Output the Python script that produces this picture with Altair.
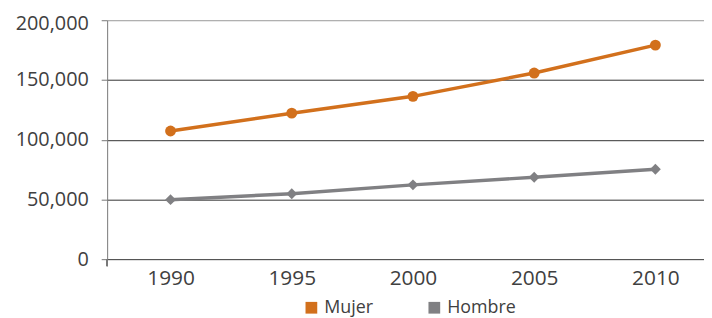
import altair as alt
import pandas as pd

years = ["1990", "1995", "2000", "2005", "2010"]
mujer = [107300, 122200, 136300, 155800, 179200]
hombre = [49800, 54800, 62200, 68600, 75300]
series = ["Mujer", "Hombre"]
colors = ["#D2701C", "#808083"]
shapes = ["circle", "diamond"]
y_ticks = [0, 50000, 100000, 150000, 200000]

rows = []
for s, vals in zip(series, [mujer, hombre]):
    for yr, v in zip(years, vals):
        rows.append({"Año": yr, "Valor": v, "Serie": s})
df = pd.DataFrame(rows)

FONT = "Open Sans"

x = alt.X("Año:O", scale=alt.Scale(type="point", padding=0.462, align=0.566),
          axis=alt.Axis(title=None, labelAngle=0, domain=False, ticks=False,
                        labelPadding=9, labelFontSize=21, labelColor="#404040",
                        labelFont=FONT, grid=False))
y = alt.Y("Valor:Q", scale=alt.Scale(domain=[0, 200000], nice=False),
          axis=alt.Axis(title=None, values=y_ticks, format=",d", tickSize=6,
                        tickColor="#777", domainColor="#777", labelPadding=13,
                        labelFontSize=20, labelColor="#404040", labelFont=FONT,
                        labelOffset={"condition": {"test": "datum.value === 200000", "value": 3}, "value": 0},
                        gridColor={"condition": {"test": "datum.value === 200000", "value": "#999999"}, "value": "#333333"},
                        gridWidth=1))
color = alt.Color("Serie:N", scale=alt.Scale(domain=series, range=colors),
                  legend=alt.Legend(title=None, orient="none", legendX=197, legendY=281,
                                    direction="horizontal", symbolType="square",
                                    symbolSize=140, symbolStrokeWidth=0,
                                    symbolOpacity=1,
                                    labelFontSize=18, labelColor="#404040", labelFont=FONT,
                                    columnPadding=52, symbolOffset=0, labelOffset=4,
                                    padding=0))

base = alt.Chart(df)
lines = base.mark_line(strokeWidth=3.5).encode(x=x, y=y, color=color)
layers = [lines]
for s, shp in zip(series, shapes):
    layers.append(
        base.transform_filter(alt.datum.Serie == s)
        .mark_point(filled=True, size=120, opacity=1, shape=shp)
        .encode(x=x, y=y, color=color)
    )
tick = alt.Chart(df).mark_rule(color="#777", strokeWidth=1).encode(
    x=alt.value(0), y=alt.value(241), y2=alt.value(248))
layers.append(tick)

chart = alt.layer(*layers).properties(
    width=602, height=241,
    padding={"left": 100, "top": 11, "right": 0, "bottom": 58},
    autosize=alt.AutoSizeParams(type="none"),
).configure_view(stroke=None)

chart.save("out.html", embed_options={"renderer": "svg", "actions": False})
